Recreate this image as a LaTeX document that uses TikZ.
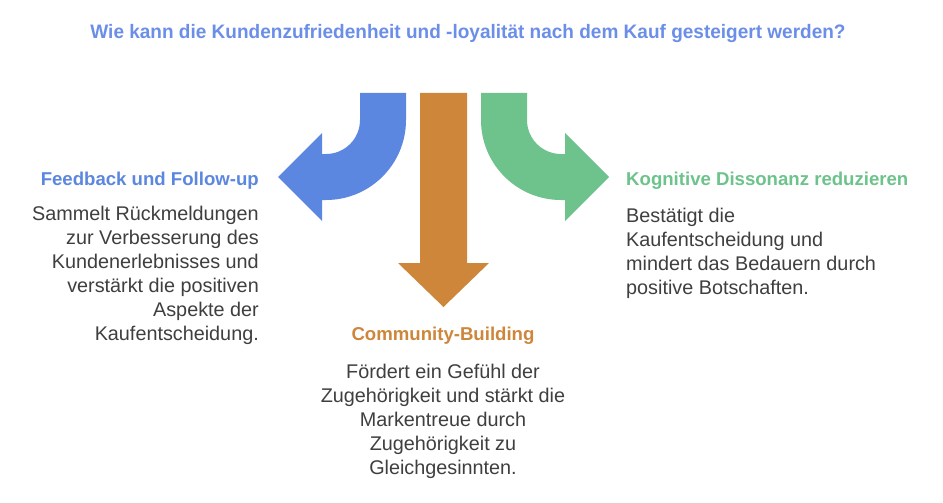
\documentclass[tikz,border=0pt]{standalone}
\usepackage{fontspec}
\setmainfont{Liberation Sans}
\definecolor{cblue}{HTML}{5C87E0}
\definecolor{corange}{HTML}{CE863A}
\definecolor{cgreen}{HTML}{6DC38B}
\definecolor{ctitle}{HTML}{6B8EE8}
\definecolor{ctext}{HTML}{3F3F3F}
\begin{document}
\begin{tikzpicture}[x=1pt,y=1pt,
  bodytxt/.style={inner sep=0pt,text=ctext,font=\fontsize{19.8}{23.9}\selectfont},
  headtxt/.style={inner sep=0pt,font=\bfseries\fontsize{18.6}{22}\selectfont}]
\useasboundingbox[fill=white] (0,0) rectangle (943,-503);
\node[inner sep=0pt,anchor=base,text=ctitle,font=\bfseries\fontsize{19.5}{23}\selectfont] (title) at (468,-39) {\scalebox{0.975}[1]{Wie kann die Kundenzufriedenheit und -loyalität nach dem Kauf gesteigert werden?}};
% arrows
\fill[cblue] (406,-93) -- (406,-120) arc[start angle=0,end angle=-90,radius=80] -- (322,-200) -- (322,-221) -- (278,-177) -- (322,-133) -- (322,-154) -- (326,-154) arc[start angle=-90,end angle=0,radius=34] -- (360,-93) -- cycle;
\fill[cgreen] (481,-93) -- (481,-120) arc[start angle=180,end angle=270,radius=80] -- (565,-200) -- (565,-221) -- (609,-177) -- (565,-133) -- (565,-154) -- (561,-154) arc[start angle=270,end angle=180,radius=34] -- (527,-93) -- cycle;
\fill[corange] (420,-93) -- (420,-263) -- (398,-263) -- (443.5,-307) -- (489,-263) -- (467,-263) -- (467,-93) -- cycle;
% headings
\node[headtxt,text=cblue,anchor=base east] (h1) at (259,-185) {Feedback und Follow-up};
\node[headtxt,text=cgreen,anchor=base west] (h3) at (626,-185) {Kognitive Dissonanz reduzieren};
\node[headtxt,text=corange,anchor=base] (h2) at (443,-340) {Community-Building};
% bodies
\node[bodytxt,align=right,anchor=north east] (b1) at (259,-206) {Sammelt Rückmeldungen\\zur Verbesserung des\\Kundenerlebnisses und\\verstärkt die positiven\\Aspekte der\\Kaufentscheidung.};
\node[bodytxt,align=left,anchor=north west] (b3) at (626,-208) {Bestätigt die\\Kaufentscheidung und\\mindert das Bedauern durch\\positive Botschaften.};
\node[bodytxt,align=center,anchor=north] (b2) at (443,-364) {Fördert ein Gefühl der\\Zugehörigkeit und stärkt die\\Markentreue durch\\Zugehörigkeit zu\\Gleichgesinnten.};
\end{tikzpicture}
\end{document}
